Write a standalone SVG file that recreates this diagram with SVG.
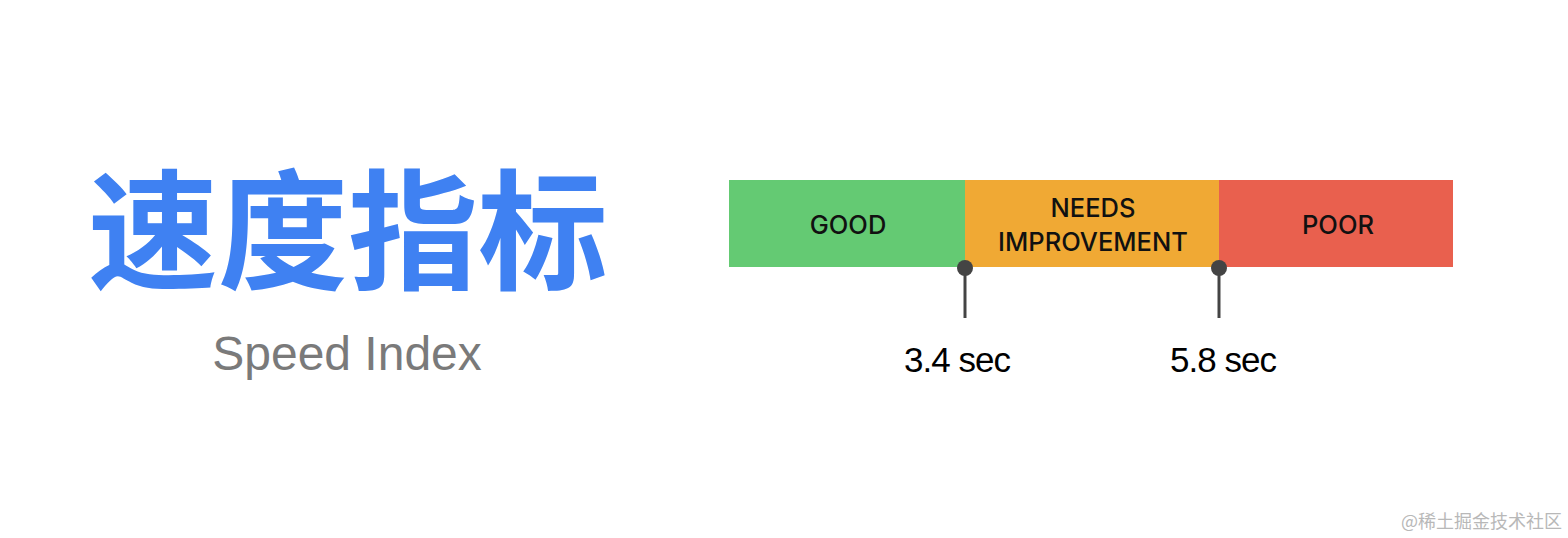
<svg xmlns="http://www.w3.org/2000/svg" width="1568" height="538" viewBox="0 0 1568 538">
<style>
.seg-label{font-family:Inter,"Liberation Sans",Arial,sans-serif;font-size:25.5px;font-weight:500;fill:#111;text-anchor:middle}
.val{font-family:"Liberation Sans",Arial,sans-serif;font-size:35px;fill:#000;text-anchor:middle;letter-spacing:-1px}
.pin{stroke:#444;stroke-width:3}
.pinhead{fill:#444}
</style>
<rect width="1568" height="538" fill="#fff"/>
<g id="title">
<text x="348" y="279" font-family="Noto Sans CJK SC, sans-serif" font-size="130" font-weight="700" fill="#3f81f2" text-anchor="middle">速度指标</text>
<text x="347" y="370" font-family="Liberation Sans, Arial, sans-serif" font-size="48" fill="#7a7a7a" text-anchor="middle">Speed Index</text>
</g>
<g id="good">
<rect x="729" y="180" width="236" height="87" fill="#64ca73"/>
<text class="seg-label" x="848" y="234">GOOD</text>
</g>
<g id="needs-improvement">
<rect x="965" y="180" width="254" height="87" fill="#f0a934"/>
<text class="seg-label" x="1093" y="217">NEEDS</text>
<text class="seg-label" x="1093" y="251">IMPROVEMENT</text>
</g>
<g id="poor">
<rect x="1219" y="180" width="234" height="87" fill="#e9604e"/>
<text class="seg-label" x="1338" y="234">POOR</text>
</g>
<g id="connectors">
<line class="pin" x1="965" y1="268" x2="965" y2="318"/>
<circle class="pinhead" cx="965" cy="268" r="8"/>
<line class="pin" x1="1219" y1="268" x2="1219" y2="318"/>
<circle class="pinhead" cx="1219" cy="268" r="8"/>
</g>
<g id="threshold-1">
<text class="val" x="957" y="372">3.4 sec</text>
</g>
<g id="threshold-2">
<text class="val" x="1223" y="372">5.8 sec</text>
</g>
<g id="watermark">
<text x="1562" y="528" font-family="Noto Sans CJK SC, sans-serif" font-size="18" fill="#b8b8b8" text-anchor="end">@稀土掘金技术社区</text>
</g>
</svg>
